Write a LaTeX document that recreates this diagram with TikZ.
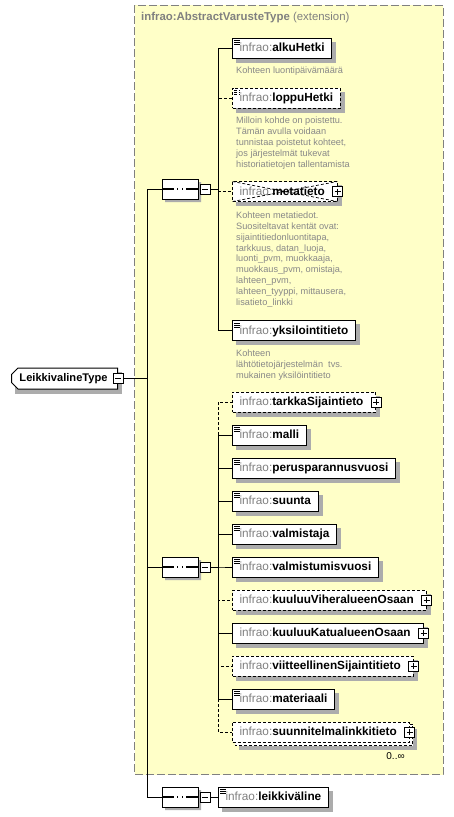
\documentclass[tikz,border=0pt]{standalone}
\usepackage{fontspec}
\setmainfont{Liberation Sans}
\usetikzlibrary{positioning,shapes.misc,calc}
\definecolor{extfill}{RGB}{255,255,200}
\definecolor{nsgray}{RGB}{128,128,128}
\definecolor{docgray}{RGB}{136,136,136}
\definecolor{shadowgray}{RGB}{172,172,172}
\pgfdeclarelayer{back}
\pgfdeclarelayer{shadows}
\pgfsetlayers{back,shadows,main}
\newcommand{\qn}[1]{{\color{nsgray}infrao:}\textbf{#1}}
\tikzset{
    conn/.style={line width=1pt},
    optconn/.style={conn, dash pattern=on 3pt off 2pt},
    extbox/.style={draw=nsgray, fill=extfill, line width=1pt, dash pattern=on 8pt off 3pt},
    box/.style={draw, fill=white, line width=1pt, anchor=west, minimum height=20pt,
        inner xsep=7pt, inner ysep=0pt, text height=9pt, text depth=1.6pt,
        font=\fontsize{11.8}{13}\selectfont},
    opt/.style={dash pattern=on 3pt off 2pt},
    simple/.style={path picture={
        \foreach \d in {2.5,4.5,6.5}
            \draw[line width=0.7pt] ([shift={(1.5pt,-\d pt)}]path picture bounding box.north west) -- ++(6pt,0pt);}},
    cplx/.style={execute at end node={\hspace{5.5pt}}},
    optcplx/.style={opt, cplx},
    multi/.style={opt, cplx},
    crossed/.style={cplx, path picture={
        \draw[line width=0.7pt] (path picture bounding box.north west) -- (path picture bounding box.south east)
            (path picture bounding box.south west) -- (path picture bounding box.north east);}},
    desc/.style={anchor=north west, inner sep=0pt, align=left, text=docgray,
        font=\fontsize{9.2}{10.9}\selectfont},
    seqshape/.style={chamfered rectangle, chamfered rectangle xsep=7pt, chamfered rectangle ysep=7pt,
        minimum width=36pt, minimum height=20pt, inner sep=0pt},
    seq/.style={seqshape, draw, fill=white, line width=1pt,
        path picture={
            \draw[line width=1.2pt] (path picture bounding box.west) -- (path picture bounding box.east);
            \foreach \d in {-4.5,0,4.5}
                \fill ([xshift=\d pt]path picture bounding box.center) ++(-1.8pt,-1.8pt) rectangle ++(3.6pt,3.6pt);}},
    tog/.style={draw, fill=white, line width=0.8pt, minimum size=10pt, inner sep=0pt},
    minus/.style={tog, path picture={
        \draw[line width=0.8pt] ([xshift=2pt]path picture bounding box.west) -- ([xshift=-2pt]path picture bounding box.east);}},
    plus/.style={tog, path picture={
        \draw[line width=0.8pt] ([xshift=2pt]path picture bounding box.west) -- ([xshift=-2pt]path picture bounding box.east)
            ([yshift=-2pt]path picture bounding box.north) -- ([yshift=2pt]path picture bounding box.south);}},
    typebox/.style={chamfered rectangle, chamfered rectangle corners={north west,south west},
        chamfered rectangle xsep=3pt, draw, fill=white, line width=1pt, anchor=west,
        minimum height=21pt, inner xsep=5pt, inner ysep=0pt,
        font=\bfseries\fontsize{11.1}{13}\selectfont, execute at end node={\hspace{2pt}}},
}

\begin{document}
\begin{tikzpicture}[x=1pt, y=-1pt]
\useasboundingbox (0,0) rectangle (454,817);
\begin{pgfonlayer}{back}
\draw[extbox] (134.5,5) rectangle (443,774.5);
\end{pgfonlayer}
\node[anchor=west, inner sep=0pt, text=nsgray, font=\fontsize{11.4}{13}\selectfont] (ext-title) at (141,18)
    {\textbf{infrao:AbstractVarusteType} (extension)};

\node[typebox] (type) at (11,378.5) {LeikkivalineType};
\node[minus] (type-m) at (type.east) {};
\coordinate (bus) at (147,378.5);

\node[seq] (s1) at (180,189) {};
\node[seq] (s2) at (180,567) {};
\node[seq] (s3) at (180,797) {};
\foreach \s in {s1,s2,s3}
    \node[minus, right=1pt of \s] (\s-m) {};

\node[box, simple] (alku) at (232,48) {\qn{alkuHetki}};
\node[desc] (alku-doc) at (236,67) {Kohteen luontipäivämäärä};
\node[box, opt, simple] (loppu) at (232,98) {\qn{loppuHetki}};
\node[desc] (loppu-doc) at (236,117) {Milloin kohde on poistettu.\\Tämän avulla voidaan\\tunnistaa poistetut kohteet,\\jos järjestelmät tukevat\\historiatietojen tallentamista};
\node[box, opt, crossed] (meta) at (232,191.5) {\qn{metatieto}};
\node[desc] (meta-doc) at (236,211.5) {Kohteen metatiedot.\\Suositeltavat kentät ovat:\\sijaintitiedonluontitapa,\\tarkkuus, datan\_luoja,\\luonti\_pvm, muokkaaja,\\muokkaus\_pvm, omistaja,\\lahteen\_pvm,\\lahteen\_tyyppi, mittausera,\\lisatieto\_linkki};
\node[box, simple] (yksilo) at (232,330.5) {\qn{yksilointitieto}};
\node[desc] (yksilo-doc) at (236,350) {Kohteen\\lähtötietojärjestelmän\ \ tvs.\\mukainen yksilöintitieto};

\foreach \nm/\yy/\lbl/\sty in {tarkka/402/tarkkaSijaintieto/optcplx, malli/435/malli/simple,
    perus/468/perusparannusvuosi/simple, suunta/501/suunta/simple, valm/534/valmistaja/simple,
    valmv/567/valmistumisvuosi/simple, kvih/600/kuuluuViheralueenOsaan/optcplx,
    kkatu/633/kuuluuKatualueenOsaan/cplx, viit/666/viitteellinenSijaintitieto/optcplx,
    mater/699/materiaali/simple, suunn/732/suunnitelmalinkkitieto/multi}
    \node[box, \sty] (\nm) at (232,\yy) {\qn{\lbl}};

\node[box, simple] (leikk) at (218,797) {\qn{leikkiväline}};

\foreach \nm in {meta,tarkka,kvih,kkatu,viit,suunn}
    \node[plus] (\nm-p) at (\nm.east) {};
\node[anchor=north east, inner sep=0pt, font=\fontsize{10}{12}\selectfont] (suunn-occ)
    at ([shift={(-5pt,-10pt)}]suunn.south east) {0..∞};

\begin{pgfonlayer}{shadows}
\foreach \nm in {alku,loppu,meta,yksilo,tarkka,malli,perus,suunta,valm,valmv,kvih,kkatu,viit,mater,leikk}
    \fill[shadowgray] ($(\nm.north west)+(4pt,-4pt)$) rectangle ($(\nm.south east)+(4pt,-4pt)$);
\fill[shadowgray] ($(type.north -| type.west)+(4pt,-4pt)$) rectangle ($(type.south -| type.east)+(4pt,-4pt)$);
\fill[shadowgray] ($(suunn.north west)+(7pt,-7pt)$) rectangle ($(suunn.south east)+(7pt,-7pt)$);
\draw[line width=1pt, opt, fill=white] ($(suunn.north west)+(3pt,-3pt)$) rectangle ($(suunn.south east)+(3pt,-3pt)$);
\foreach \s in {s1,s2,s3}
    \node[seqshape, fill=shadowgray] (\s-sh) at ($(\s.center)+(3pt,-3pt)$) {};
\end{pgfonlayer}

\foreach \s in {s1,s2,s3}
    \draw[conn] (type-m.east) -- (bus) |- (\s.west);
\foreach \nm in {loppu,meta}
    \draw[optconn] (s1-m.east) -- ++(8,0) |- (\nm.west);
\foreach \nm in {alku,yksilo}
    \draw[conn] (s1-m.east) -- ++(8,0) |- (\nm.west);
\foreach \nm in {tarkka,kvih,viit,suunn}
    \draw[optconn] (s2-m.east) -- ++(8,0) |- (\nm.west);
\foreach \nm in {malli,perus,suunta,valm,valmv,kkatu,mater}
    \draw[conn] (s2-m.east) -- ++(8,0) |- (\nm.west);
\draw[conn] (s3-m.east) -- (leikk.west);
\end{tikzpicture}
\end{document}
